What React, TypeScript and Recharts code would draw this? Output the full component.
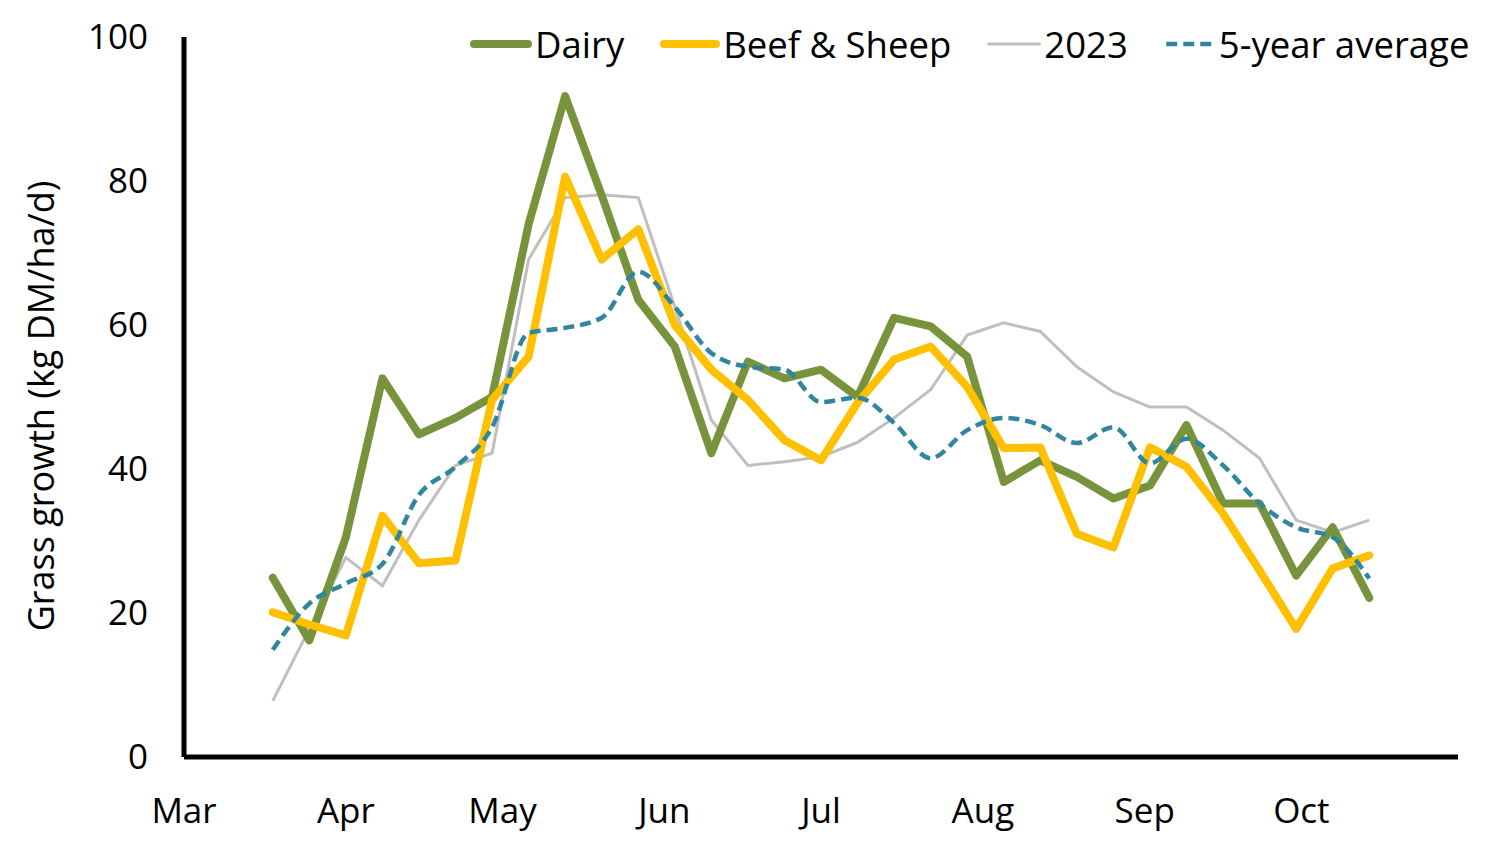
import { LineChart, Line, XAxis, YAxis } from 'recharts'

// weekly readings (Monday of each week)
const weeks = [
  '2024-03-18', '2024-03-25', '2024-04-01', '2024-04-08', '2024-04-15', '2024-04-22', '2024-04-29',
  '2024-05-06', '2024-05-13', '2024-05-20', '2024-05-27', '2024-06-03', '2024-06-10', '2024-06-17',
  '2024-06-24', '2024-07-01', '2024-07-08', '2024-07-15', '2024-07-22', '2024-07-29', '2024-08-05',
  '2024-08-12', '2024-08-19', '2024-08-26', '2024-09-02', '2024-09-09', '2024-09-16', '2024-09-23',
  '2024-09-30', '2024-10-07', '2024-10-14',
]

const dairy = [
  24.9, 16.2, 30.5, 52.6, 44.8, 47.1, 50.0, 74.0, 91.8, 78.0, 63.5, 57.0, 42.2, 54.9, 52.6, 53.8,
  50.0, 61.0, 59.8, 55.6, 38.2, 41.2, 38.9, 35.9, 37.7, 46.1, 35.2, 35.2, 25.2, 31.9, 22.1,
]
const beefSheep = [
  20.1, 18.4, 16.9, 33.5, 26.9, 27.3, 49.6, 55.6, 80.6, 69.1, 73.3, 60.0, 53.8, 49.6, 44.0, 41.2,
  49.2, 55.2, 57.0, 51.4, 42.9, 43.0, 31.0, 29.1, 43.0, 40.3, 33.8, 25.9, 17.8, 26.2, 28.0,
]
const year2023 = [
  7.8, 17.8, 27.7, 23.8, 32.9, 40.5, 42.2, 69.1, 77.7, 78.1, 77.7, 62.5, 46.8, 40.5, 41.0, 41.7,
  43.7, 47.1, 51.0, 58.6, 60.3, 59.1, 54.2, 50.7, 48.6, 48.6, 45.4, 41.5, 32.9, 31.2, 32.9,
]
const fiveYearAvg = [
  14.9, 21.3, 24.1, 26.8, 36.4, 40.3, 45.8, 58.9, 59.6, 61.0, 67.4, 62.5, 56.1, 54.2, 53.8, 49.3,
  49.9, 46.4, 41.5, 45.4, 47.1, 46.1, 43.6, 45.8, 40.8, 44.2, 40.5, 35.2, 31.9, 30.5, 24.8,
]

const monthStarts = ['2024-03-01', '2024-04-01', '2024-05-01', '2024-06-01', '2024-07-01', '2024-08-01', '2024-09-01', '2024-10-01']
const monthNames = ['Mar', 'Apr', 'May', 'Jun', 'Jul', 'Aug', 'Sep', 'Oct']
const axisEnd = '2024-10-31'
const yTicks = [0, 20, 40, 60, 80, 100]

const dayOf = (s: string) => (Date.parse(s) - Date.parse(monthStarts[0])) / 86400000

const data = weeks.map((w, i) => ({
  day: dayOf(w),
  dairy: dairy[i],
  beef: beefSheep[i],
  y2023: year2023[i],
  avg: fiveYearAvg[i],
}))

const monthDays = monthStarts.map(dayOf)

const FONT = '"Open Sans", sans-serif'
const tickStyle = { fontFamily: FONT, fontSize: 35, fill: '#000' }

const legendItems = [
  { name: 'Dairy', color: '#77933C', width: 8, dash: undefined, len: 62 },
  { name: 'Beef & Sheep', color: '#FFC000', width: 8, dash: undefined, len: 60 },
  { name: '2023', color: '#BFBFBF', width: 3, dash: undefined, len: 54 },
  { name: '5-year average', color: '#31859C', width: 4.5, dash: '11 6', len: 52 },
]

export default function App() {
  return (
    <div style={{ position: 'absolute', left: 0, top: 0, width: 1500, height: 860, background: '#fff' }}>
      <LineChart width={1500} height={860} data={data} margin={{ top: 37, right: 42, bottom: 0, left: 0 }}>
        <XAxis
          dataKey="day"
          type="number"
          domain={[0, dayOf(axisEnd)]}
          ticks={monthDays}
          tickFormatter={(d: number) => monthNames[monthDays.indexOf(d)] ?? ''}
          height={103}
          axisLine={{ stroke: '#000', strokeWidth: 5 }}
          tickLine={false}
          tickSize={0}
          tickMargin={41}
          tick={tickStyle}
          interval={0}
          allowDataOverflow
        />
        <YAxis
          domain={[0, 100]}
          ticks={yTicks}
          width={184}
          axisLine={{ stroke: '#000', strokeWidth: 5 }}
          tickLine={false}
          tickSize={0}
          tickMargin={36}
          tick={tickStyle}
          interval={0}
        />
        <Line type="linear" dataKey="y2023" stroke="#BFBFBF" strokeWidth={3} dot={false} isAnimationActive={false} />
        <Line type="linear" dataKey="dairy" stroke="#77933C" strokeWidth={8} strokeLinejoin="round" strokeLinecap="round" dot={false} isAnimationActive={false} />
        <Line type="linear" dataKey="beef" stroke="#FFC000" strokeWidth={8} strokeLinejoin="round" strokeLinecap="round" dot={false} isAnimationActive={false} />
        <Line type="monotone" dataKey="avg" stroke="#31859C" strokeWidth={4.5} strokeDasharray="11 6" dot={false} isAnimationActive={false} />
      </LineChart>

      {/* y axis title */}
      <div
        style={{
          position: 'absolute', left: 40, top: 406, transform: 'translate(-50%, -50%) rotate(-90deg)',
          whiteSpace: 'nowrap', fontFamily: FONT, fontSize: 36, color: '#000',
        }}
      >
        Grass growth (kg DM/ha/d)
      </div>

      {/* legend */}
      <div
        style={{
          position: 'absolute', left: 470, top: 21, width: 1100, display: 'flex', alignItems: 'center',
          fontFamily: FONT, fontSize: 36.5, color: '#000', lineHeight: '46px', whiteSpace: 'nowrap',
        }}
      >
        {legendItems.map(d => (
          <div key={d.name} style={{ display: 'flex', alignItems: 'center', marginRight: 36, flexShrink: 0 }}>
            <svg width={d.len} height={12} style={{ display: 'block', flexShrink: 0 }}>
              <line x1={d.width / 2} y1={6} x2={d.len - d.width / 2} y2={6} stroke={d.color} strokeWidth={d.width} strokeDasharray={d.dash} strokeLinecap={d.dash ? 'butt' : 'round'} />
            </svg>
            <span style={{ marginLeft: 3 }}>{d.name}</span>
          </div>
        ))}
      </div>
    </div>
  )
}
